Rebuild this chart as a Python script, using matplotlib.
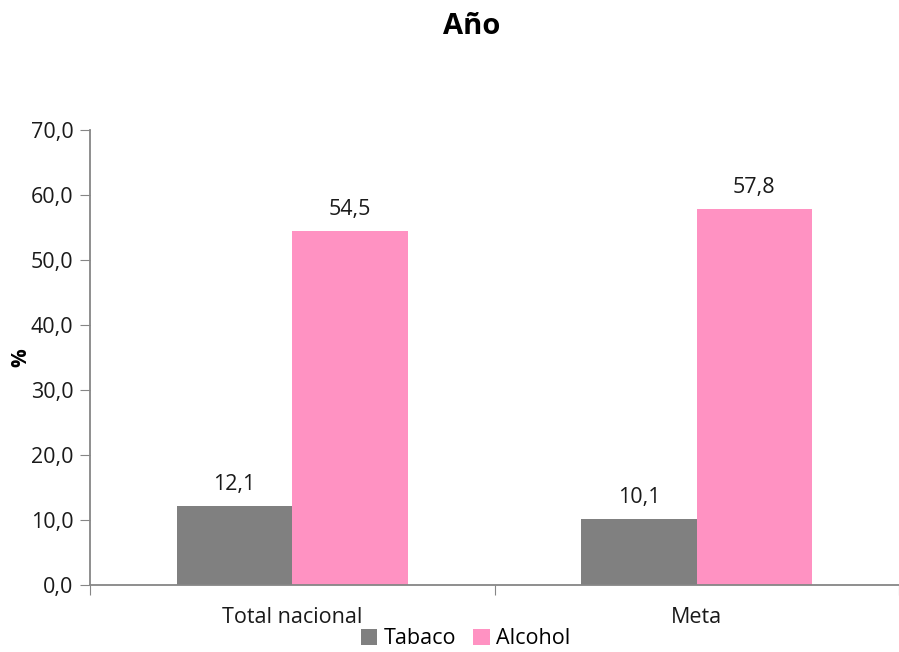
import matplotlib
matplotlib.use("Agg")
import matplotlib.pyplot as plt
import numpy as np

# datos
categorias = ["Total nacional", "Meta"]
tabaco = [12.1, 10.1]
alcohol = [54.5, 57.8]
series = ["Tabaco", "Alcohol"]
colores = ["#808080", "#FF92C2"]

plt.rcParams['font.family'] = ['Open Sans', 'DejaVu Sans']

fig = plt.figure(figsize=(8.99, 6.52), dpi=100)
ax = fig.add_axes([90 / 899, 1 - 585 / 652, 809 / 899, 455 / 652])

x = np.arange(len(categorias))
w = 0.285
b1 = ax.bar(x - w / 2, tabaco, w, color=colores[0], label=series[0])
b2 = ax.bar(x + w / 2, alcohol, w, color=colores[1], label=series[1])

for barras, vals in [(b1, tabaco), (b2, alcohol)]:
    for r, v in zip(barras, vals):
        ax.annotate(("%.1f" % v).replace(".", ","), (r.get_x() + r.get_width() / 2, v),
                    xytext=(0, 8), textcoords="offset points",
                    ha="center", va="bottom", fontsize=15.5, color="#1a1a1a")

ax.set_ylim(0, 70)
ax.set_yticks(np.arange(0, 71, 10))
ax.set_yticklabels([("%.1f" % t).replace(".", ",") for t in np.arange(0, 71, 10)])
ax.set_xlim(-0.5, -0.5 + 809 / 410)
ax.set_xticks([-0.5, 0.5, 1.5])
ax.set_xticklabels([])
ax.set_xticks(x, minor=True)
ax.set_xticklabels(categorias, minor=True)
ax.tick_params(axis="x", which="minor", length=0, pad=16, labelsize=15.5, labelcolor="#1a1a1a")
ax.tick_params(axis="x", which="major", length=7, color="#868686", direction="out")
ax.tick_params(axis="y", length=7, color="#868686", labelsize=15.5, labelcolor="#1a1a1a", pad=5)

for s in ["top", "right"]:
    ax.spines[s].set_visible(False)
for s in ["left", "bottom"]:
    ax.spines[s].set_color("#868686")
    ax.spines[s].set_linewidth(1.3)

ax.set_ylabel("%", fontsize=15, fontweight="bold", labelpad=0)
ax.yaxis.set_label_coords(-0.072, 0.5)

fig.text(0.525, 1 - 27 / 652, "Año", ha="center", va="center", fontsize=21, fontweight="bold")

fig.legend(handles=[b1, b2], loc="center", bbox_to_anchor=(0.518, 1 - 639 / 652), ncol=2,
           frameon=False, fontsize=15.5, handlelength=0.75, handleheight=0.75,
           handletextpad=0.3, columnspacing=0.8, borderpad=0)

fig.savefig("out.png", dpi=100)
